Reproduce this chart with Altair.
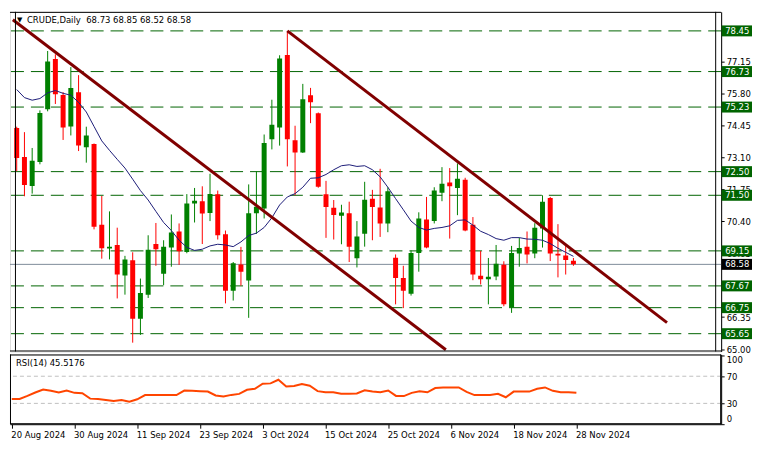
import altair as alt
import pandas as pd

# ---------------- data ----------------
bar_index = list(range(73))
opens = [74.34, 73.12, 71.89, 72.91, 75.14, 77.26, 75.74, 74.41, 75.86, 73.53,
         73.67, 70.25, 69.25, 69.40, 68.11, 68.75, 66.28, 67.30, 69.44, 68.18,
         69.29, 69.97, 69.10, 71.15, 71.25, 70.75, 71.54, 69.85, 67.46, 68.57,
         67.90, 70.74, 70.94, 73.87, 74.37, 77.43, 73.83, 73.31, 75.73, 74.97,
         71.54, 70.97, 70.63, 70.74, 68.84, 69.87, 71.35, 70.98, 70.31, 68.86,
         68.00, 67.34, 69.06, 70.48, 70.41, 71.61, 72.04, 71.81, 72.16, 70.25,
         68.10, 67.95, 68.07, 68.56, 66.76, 69.04, 69.32, 69.04, 70.10, 71.39,
         69.03, 68.95, 68.73]
highs = [74.40, 74.17, 73.50, 75.09, 77.60, 77.46, 75.86, 76.92, 76.58, 74.40,
         73.69, 71.47, 70.82, 70.13, 68.94, 69.09, 67.98, 69.81, 70.33, 69.60,
         70.69, 70.31, 71.55, 71.81, 71.88, 72.41, 71.70, 70.01, 68.68, 69.32,
         71.96, 72.52, 74.07, 75.54, 77.42, 78.45, 74.44, 76.21, 76.04, 75.00,
         72.11, 71.30, 71.10, 71.23, 70.41, 72.07, 71.73, 72.62, 71.84, 69.00,
         68.52, 69.17, 70.78, 71.43, 71.84, 72.69, 72.65, 72.85, 72.24, 70.58,
         69.15, 68.85, 69.40, 68.71, 69.36, 69.71, 69.97, 70.32, 71.50, 71.43,
         70.28, 69.36, 68.85]
lows = [72.52, 71.46, 71.57, 72.81, 75.05, 75.36, 73.84, 74.03, 73.37, 72.88,
        70.06, 68.82, 68.79, 67.14, 67.30, 65.27, 65.60, 67.16, 68.52, 67.70,
        68.48, 68.56, 69.05, 70.35, 69.44, 70.41, 69.63, 66.93, 67.05, 67.68,
        66.32, 69.87, 70.52, 73.44, 73.60, 72.72, 71.50, 73.29, 74.55, 71.82,
        69.70, 69.63, 69.43, 68.68, 68.45, 69.33, 69.60, 69.74, 69.94, 66.89,
        66.73, 67.26, 68.27, 69.26, 70.31, 71.25, 69.67, 70.66, 69.98, 67.91,
        67.73, 66.89, 67.91, 66.81, 66.53, 68.48, 68.62, 68.84, 69.29, 68.72,
        68.03, 68.15, 68.52]
closes = [73.08, 71.93, 72.96, 74.98, 77.16, 75.77, 74.37, 76.04, 73.60, 74.03,
          70.17, 69.26, 69.32, 68.15, 68.79, 66.28, 67.37, 69.20, 69.22, 69.32,
          69.93, 69.13, 71.15, 71.27, 70.73, 71.55, 69.81, 67.46, 68.63, 68.27,
          70.74, 71.02, 73.71, 74.48, 77.28, 73.87, 73.31, 75.56, 75.43, 71.86,
          71.00, 70.67, 70.77, 69.33, 69.76, 71.31, 71.00, 70.31, 71.67, 68.00,
          67.46, 69.06, 70.52, 69.29, 71.70, 71.99, 71.88, 72.20, 70.01, 68.15,
          67.95, 68.06, 68.61, 66.89, 69.06, 69.27, 69.00, 70.13, 71.23, 69.04,
          68.96, 68.76, 68.58]
moving_avg = [75.97, 75.63, 75.52, 75.59, 75.83, 75.93, 75.81, 75.73, 75.43, 75.02,
              74.41, 73.80, 73.40, 73.02, 72.65, 72.18, 71.70, 71.30, 70.82, 70.35,
              70.01, 69.60, 69.30, 69.17, 69.22, 69.36, 69.43, 69.40, 69.33, 69.53,
              69.80, 69.90, 70.14, 70.55, 71.09, 71.43, 71.57, 71.84, 72.22, 72.24,
              72.38, 72.58, 72.75, 72.79, 72.72, 72.75, 72.58, 72.28, 71.84, 71.36,
              70.89, 70.41, 70.14, 70.03, 70.10, 70.14, 70.21, 70.44, 70.46, 70.24,
              69.98, 69.84, 69.67, 69.60, 69.71, 69.71, 69.65, 69.64, 69.60, 69.46,
              69.26, 69.09, 68.92]
rsi_values = [36.5, 36.5, 41.0, 46.0, 50.5, 48.5, 46.0, 49.0, 45.5, 45.0,
              37.0, 36.6, 35.0, 33.5, 35.0, 32.5, 36.0, 42.2, 42.2, 42.2,
              42.2, 42.2, 48.8, 48.5, 48.0, 47.5, 41.7, 40.0, 42.5, 44.0,
              50.0, 51.5, 59.0, 59.5, 64.8, 55.0, 55.5, 58.5, 56.0, 48.0,
              46.4, 46.4, 44.1, 44.1, 44.5, 49.3, 47.5, 46.5, 49.0, 41.0,
              40.8, 45.5, 47.9, 46.4, 52.6, 53.5, 53.5, 53.5, 47.0, 42.2,
              42.2, 42.2, 44.0, 39.0, 47.4, 47.4, 47.4, 51.5, 53.5, 48.5,
              46.4, 46.4, 45.5176]
rsi_last = 45.5176

trend_line_id = ["a", "a", "b", "b"]
trend_x = [-0.5, 55.5, 35.0, 84.1]
trend_y = [78.92, 64.97, 78.45, 66.12]

levels = [78.45, 76.73, 75.23, 72.50, 71.50, 69.15, 67.67, 66.75, 65.65]
last_price = 68.58
price_ticks = [65.00, 66.35, 67.70, 69.05, 70.40, 71.75, 73.10, 74.45, 75.80, 77.15]
rsi_levels = [30, 70]
rsi_ticks = [0, 30, 70, 100]
date_tick_idx = [0, 8, 16, 24, 32, 40, 48, 56, 64, 72]
date_tick_labels = ["20 Aug 2024", "30 Aug 2024", "11 Sep 2024", "23 Sep 2024",
                    "3 Oct 2024", "15 Oct 2024", "25 Oct 2024", "6 Nov 2024",
                    "18 Nov 2024", "28 Nov 2024"]
symbol = "CRUDE,Daily"

# ---------------- styling ----------------
W = 714
H_MAIN = 341
H_RSI = 70
XDOM = [-0.225, 90.46]
YDOM = [64.897, 79.255]
RSIDOM = [-0.7, 102.1]
FONT = "DejaVu Sans"
FS = 8.5
BULL = "#008000"
BEAR = "#ff0000"
LVL = "#006400"

candles = pd.DataFrame({
    "i": bar_index, "o": opens, "h": highs, "l": lows, "c": closes,
})
candles["dir"] = ["up" if c >= o else "down" for o, c in zip(opens, closes)]
ma_df = pd.DataFrame({"i": bar_index, "ma": moving_avg})
rsi_df = pd.DataFrame({"i": bar_index, "rsi": rsi_values})
trend_df = pd.DataFrame({"line": trend_line_id, "i": trend_x, "p": trend_y})
lvl_df = pd.DataFrame({"lvl": levels})
last_df = pd.DataFrame({"lvl": [last_price]})
rsi_lvl_df = pd.DataFrame({"lvl": rsi_levels})

# panel frame positions, half a pixel inside each scale's domain ends
half_x = 0.5 * (XDOM[1] - XDOM[0]) / W
half_y = 0.5 * (YDOM[1] - YDOM[0]) / H_MAIN
half_r = 0.5 * (RSIDOM[1] - RSIDOM[0]) / H_RSI
frame_x_df = pd.DataFrame({"fx": [XDOM[0] + half_x, XDOM[1] - half_x]})
frame_y_df = pd.DataFrame({"fy": [YDOM[0] + half_y, YDOM[1] - half_y]})
frame_r_df = pd.DataFrame({"fy": [RSIDOM[0] + half_r, RSIDOM[1] - half_r]})

xs = alt.Scale(domain=XDOM, nice=False, zero=False)
ys = alt.Scale(domain=YDOM, nice=False, zero=False)
rs = alt.Scale(domain=RSIDOM, nice=False, zero=False)
col = alt.Color("dir:N", scale=alt.Scale(domain=["up", "down"], range=[BULL, BEAR]), legend=None)

price_axis = alt.Axis(orient="right", values=price_ticks, format=".2f", title=None,
                      grid=False, tickSize=3, labelPadding=2, labelFont=FONT,
                      labelFontSize=FS, labelColor="black", tickColor="black",
                      domainColor="black", labelOverlap=False)

label_expr = "[%s][indexof([%s], datum.value)]" % (
    ",".join("'%s'" % s for s in date_tick_labels), ",".join(str(v) for v in date_tick_idx))
date_axis = alt.Axis(orient="bottom", values=date_tick_idx, labelExpr=label_expr, title=None,
                     grid=False, tickSize=4, labelAlign="left", labelPadding=2,
                     labelFont=FONT, labelFontSize=FS, labelColor="black",
                     tickColor="black", domainColor="black", labelOverlap=False,
                     labelBound=False, labelFlush=False, labelOffset=-1)
rsi_axis = alt.Axis(orient="right", values=rsi_ticks, title=None, grid=False, tickSize=3,
                    labelPadding=2, labelFont=FONT, labelFontSize=FS, labelColor="black",
                    tickColor="black", domainColor="black", labelFlush=3,
                    labelOverlap=False)


def PY(field):
    return alt.Y(field, scale=ys, axis=price_axis)


def PX():
    return alt.X("i:Q", scale=xs, axis=None)


level_rules = alt.Chart(lvl_df).mark_rule(color=LVL, strokeWidth=1, strokeDash=[13, 7]).encode(
    y=PY("lvl:Q"))
last_rule = alt.Chart(last_df).mark_rule(color="#7f8c99", strokeWidth=1).encode(
    y=PY("lvl:Q"))
wicks = alt.Chart(candles).mark_rule(strokeWidth=1, clip=True).encode(
    x=PX(), y=PY("l:Q"), y2="h:Q", color=col)
bodies = alt.Chart(candles).mark_bar(size=5, clip=True).encode(
    x=PX(), y=PY("o:Q"), y2="c:Q", color=col)
ma_line = alt.Chart(ma_df).mark_line(color="#1c1c78", strokeWidth=1, clip=True).encode(
    x=PX(), y=PY("ma:Q"))
trends = alt.Chart(trend_df).mark_line(color="#800000", strokeWidth=3, clip=True).encode(
    x=PX(), y=PY("p:Q"), detail="line:N")
main_frame_h = alt.Chart(frame_y_df).mark_rule(color="black", strokeWidth=1).encode(
    y=PY("fy:Q"))
main_frame_v = alt.Chart(frame_x_df).mark_rule(color="black", strokeWidth=1).encode(
    x=alt.X("fx:Q", scale=xs, axis=None))
boxes = alt.Chart(lvl_df).mark_rule(color=LVL, strokeWidth=11).encode(
    x=alt.value(W + 0.5), x2=alt.value(W + 31), y=PY("lvl:Q"))
box_text = alt.Chart(lvl_df).mark_text(align="left", baseline="middle", color="white",
                                       font=FONT, fontSize=FS).encode(
    x=alt.value(W + 4), y=PY("lvl:Q"), text=alt.Text("lvl:Q", format=".2f"))
last_box = alt.Chart(last_df).mark_rule(color="black", strokeWidth=11).encode(
    x=alt.value(W + 0.5), x2=alt.value(W + 31), y=PY("lvl:Q"))
last_text = alt.Chart(last_df).mark_text(align="left", baseline="middle", color="white",
                                         font=FONT, fontSize=FS).encode(
    x=alt.value(W + 4), y=PY("lvl:Q"), text=alt.Text("lvl:Q", format=".2f"))

header = "%s\u00a0 %.2f %.2f %.2f %.2f" % (symbol, opens[-1], highs[-1], lows[-1], closes[-1])
head_df = pd.DataFrame({"t": [header]})
head_text = alt.Chart(head_df).mark_text(align="left", baseline="middle", color="black",
                                         font=FONT, fontSize=FS).encode(
    x=alt.value(17), y=alt.value(8), text="t:N")
tri_df = pd.DataFrame({"t": ["\u25bc"]})
tri_text = alt.Chart(tri_df).mark_text(align="left", baseline="middle", color="black",
                                       font=FONT, fontSize=7).encode(
    x=alt.value(7), y=alt.value(8), text="t:N")

main = alt.layer(level_rules, last_rule, wicks, bodies, ma_line, trends,
                 main_frame_h, main_frame_v,
                 boxes, box_text, last_box, last_text, head_text, tri_text).properties(
    width=W, height=H_MAIN)

rsi_rules = alt.Chart(rsi_lvl_df).mark_rule(color="#c0c0c0", strokeWidth=1, strokeDash=[4, 3]).encode(
    y=alt.Y("lvl:Q", scale=rs, axis=rsi_axis))
rsi_line = alt.Chart(rsi_df).mark_line(color="#ff4500", strokeWidth=2, clip=True).encode(
    x=alt.X("i:Q", scale=xs, axis=date_axis), y=alt.Y("rsi:Q", scale=rs, axis=rsi_axis))
rsi_frame_h = alt.Chart(frame_r_df).mark_rule(color="black", strokeWidth=1).encode(
    y=alt.Y("fy:Q", scale=rs, axis=rsi_axis))
rsi_frame_v = alt.Chart(frame_x_df).mark_rule(color="black", strokeWidth=1).encode(
    x=alt.X("fx:Q", scale=xs, axis=date_axis))
rsi_head_df = pd.DataFrame({"t": ["RSI(14) %.4f" % rsi_last]})
rsi_head = alt.Chart(rsi_head_df).mark_text(align="left", baseline="middle", color="black",
                                            font=FONT, fontSize=FS).encode(
    x=alt.value(6), y=alt.value(9), text="t:N")
rsi_panel = alt.layer(rsi_rules, rsi_line, rsi_frame_h, rsi_frame_v, rsi_head).properties(
    width=W, height=H_RSI)

chart = alt.vconcat(main, rsi_panel, spacing=3, bounds="flush").properties(
    padding={"left": 1, "top": 2, "right": 0, "bottom": 0},
    background="white",
).configure_view(stroke="black", strokeWidth=1).configure(font=FONT)

chart.save("out.html", embed_options={"renderer": "svg", "actions": False})
